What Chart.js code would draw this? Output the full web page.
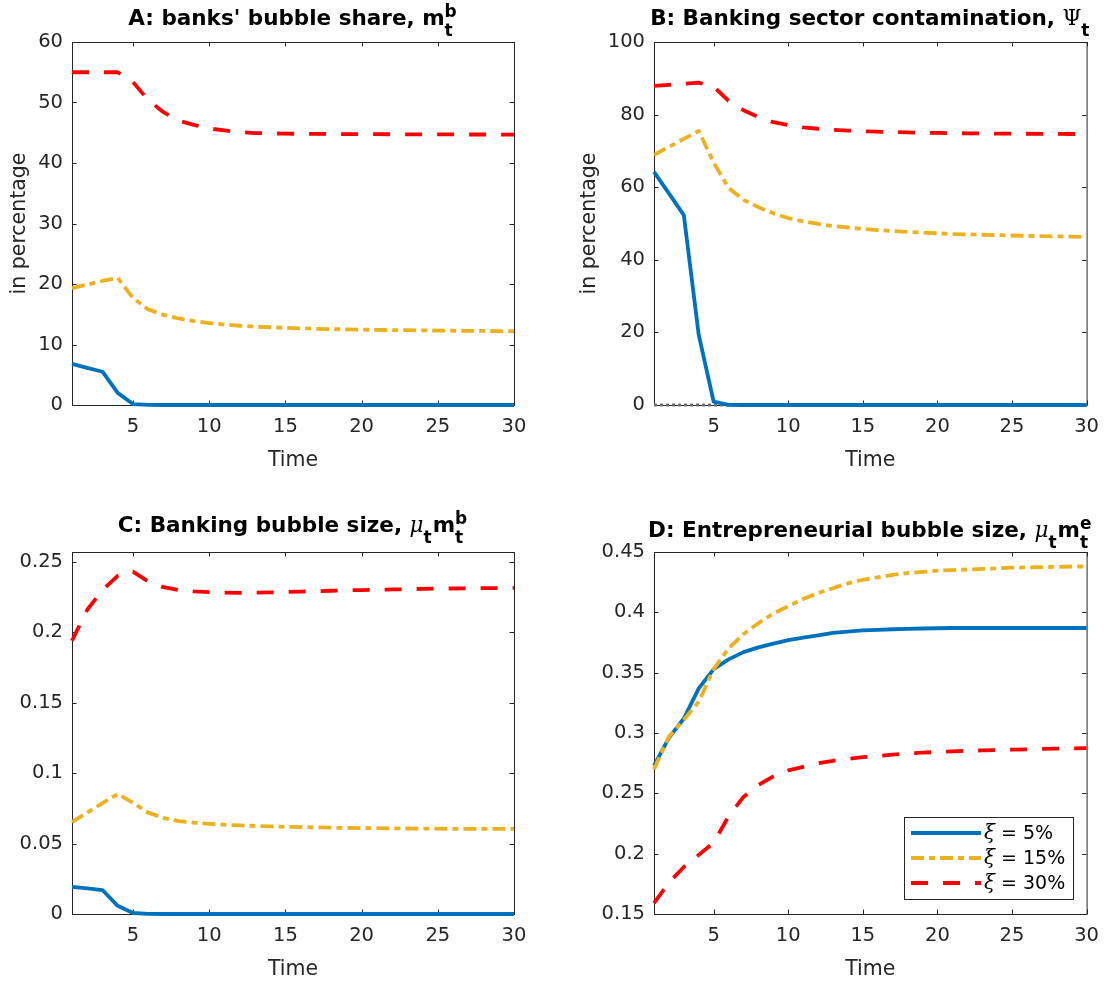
<!DOCTYPE html>
<html>
<head>
<meta charset="utf-8">
<title>Bubble shares and sizes</title>
<script src="https://cdn.jsdelivr.net/npm/chart.js@4.4.1/dist/chart.umd.min.js"></script>
<style>
  body { margin: 0; background: #fff; }
  #fig { position: relative; width: 1109px; height: 983px; }
  #fig canvas { position: absolute; }
</style>
</head>
<body>
<div id="fig">
  <canvas id="A" width="554" height="491" style="left:0;top:0"></canvas>
  <canvas id="B" width="555" height="491" style="left:554px;top:0"></canvas>
  <canvas id="C" width="554" height="492" style="left:0;top:491px"></canvas>
  <canvas id="D" width="555" height="492" style="left:554px;top:491px"></canvas>
</div>
<script>
const periods = [1, 2, 3, 4, 5, 6, 7, 8, 9, 10, 11, 12, 13, 14, 15, 16, 17, 18, 19, 20, 21, 22, 23, 24, 25, 26, 27, 28, 29, 30];
const xTicks = [5, 10, 15, 20, 25, 30];
const seriesLabels = ['ξ = 5%', 'ξ = 15%', 'ξ = 30%'];

// A: banks' bubble share (percent)
const shareTicks = [0, 10, 20, 30, 40, 50, 60];
const shareLow = [6.8, 6.15, 5.5, 2.0, 0.15, 0.02, 0, 0, 0, 0, 0, 0, 0, 0, 0, 0, 0, 0, 0, 0, 0, 0, 0, 0, 0, 0, 0, 0, 0, 0];
const shareMid = [19.3, 19.9, 20.5, 21.0, 17.7, 15.8, 14.9, 14.3, 13.85, 13.55, 13.3, 13.1, 12.95, 12.85, 12.75, 12.68, 12.6, 12.55, 12.5, 12.45, 12.42, 12.39, 12.36, 12.33, 12.3, 12.28, 12.26, 12.24, 12.22, 12.2];
const shareHigh = [55, 55, 55, 55, 53.4, 50.4, 48.4, 47.0, 46.3, 45.7, 45.4, 45.1, 44.95, 44.9, 44.85, 44.83, 44.81, 44.8, 44.78, 44.77, 44.76, 44.75, 44.74, 44.73, 44.72, 44.72, 44.71, 44.71, 44.7, 44.7];

// B: banking sector contamination (percent)
const contamTicks = [0, 20, 40, 60, 80, 100];
const contamLow = [64.2, 58.3, 52.3, 19.3, 0.9, 0.05, 0, 0, 0, 0, 0, 0, 0, 0, 0, 0, 0, 0, 0, 0, 0, 0, 0, 0, 0, 0, 0, 0, 0, 0];
const contamMid = [68.9, 71.1, 73.3, 75.5, 66.8, 59.8, 56.5, 54.5, 52.8, 51.5, 50.6, 49.9, 49.3, 48.9, 48.5, 48.2, 47.9, 47.7, 47.5, 47.3, 47.1, 47.0, 46.9, 46.8, 46.7, 46.6, 46.5, 46.45, 46.4, 46.3];
const contamHigh = [87.9, 88.2, 88.5, 88.8, 87.7, 83.8, 81.2, 79.3, 77.9, 77.1, 76.5, 76.1, 75.8, 75.6, 75.4, 75.3, 75.2, 75.1, 75.0, 74.95, 74.9, 74.85, 74.8, 74.78, 74.75, 74.72, 74.7, 74.68, 74.66, 74.65];
const contamZero = [0, 0, 0, 0, 0, 0, 0, 0, 0, 0, 0, 0, 0, 0, 0, 0, 0, 0, 0, 0, 0, 0, 0, 0, 0, 0, 0, 0, 0, 0];

// C: banking bubble size
const bankTicks = [0, 0.05, 0.1, 0.15, 0.2, 0.25];
const bankLow = [0.0192, 0.0182, 0.017, 0.0058, 0.0007, 0.0001, 0, 0, 0, 0, 0, 0, 0, 0, 0, 0, 0, 0, 0, 0, 0, 0, 0, 0, 0, 0, 0, 0, 0, 0];
const bankMid = [0.0653, 0.072, 0.0787, 0.0852, 0.079, 0.072, 0.0682, 0.066, 0.0648, 0.064, 0.0634, 0.0629, 0.0625, 0.0622, 0.0619, 0.0617, 0.0615, 0.0613, 0.0611, 0.061, 0.0609, 0.0608, 0.0607, 0.0606, 0.0606, 0.0605, 0.0605, 0.0604, 0.0604, 0.0604];
const bankHigh = [0.194, 0.216, 0.23, 0.24, 0.243, 0.236, 0.232, 0.23, 0.229, 0.2285, 0.2282, 0.228, 0.2281, 0.2283, 0.2286, 0.2289, 0.2292, 0.2295, 0.2298, 0.23, 0.2302, 0.2304, 0.2306, 0.2308, 0.231, 0.2311, 0.2312, 0.2313, 0.2314, 0.2315];

// D: entrepreneurial bubble size
const entTicks = [0.15, 0.2, 0.25, 0.3, 0.35, 0.4, 0.45];
const entLow = [0.273, 0.296, 0.312, 0.337, 0.353, 0.361, 0.367, 0.371, 0.374, 0.377, 0.379, 0.381, 0.383, 0.384, 0.385, 0.3855, 0.386, 0.3863, 0.3866, 0.3868, 0.387, 0.387, 0.387, 0.387, 0.387, 0.387, 0.387, 0.387, 0.387, 0.387];
const entMid = [0.27, 0.297, 0.311, 0.326, 0.353, 0.37, 0.382, 0.391, 0.399, 0.405, 0.411, 0.416, 0.42, 0.424, 0.427, 0.429, 0.431, 0.4325, 0.4335, 0.4345, 0.435, 0.4355, 0.436, 0.4365, 0.437, 0.4372, 0.4375, 0.4377, 0.438, 0.438];
const entHigh = [0.159, 0.176, 0.189, 0.199, 0.209, 0.231, 0.247, 0.257, 0.264, 0.269, 0.272, 0.275, 0.277, 0.2785, 0.28, 0.281, 0.282, 0.283, 0.2837, 0.2843, 0.2848, 0.2852, 0.2856, 0.2859, 0.2862, 0.2865, 0.2868, 0.287, 0.2872, 0.2874];

const AX = '#262626';
const SANS = '"DejaVu Sans", sans-serif';
const SERIF = '"DejaVu Serif", serif';
const tickFont = { family: 'DejaVu Sans', size: 19.5 };
const labelFont = { family: 'DejaVu Sans', size: 20.5 };
const TICK = 4.5;

Chart.defaults.font.family = 'DejaVu Sans';

const titles = {
  A: [{ text: "A: banks' bubble share, m" }, { sub: 't', sup: 'b' }],
  B: [{ text: 'B: Banking sector contamination, ' }, { text: 'Ψ', greek: true }, { sub: 't' }],
  C: [{ text: 'C: Banking bubble size, ' }, { text: 'μ', greek: true, italic: true }, { sub: 't' }, { text: 'm' }, { sub: 't', sup: 'b' }],
  D: [{ text: 'D: Entrepreneurial bubble size, ' }, { text: 'μ', greek: true, italic: true }, { sub: 't' }, { text: 'm' }, { sub: 't', sup: 'e' }],
};

function partFont(p) {
  if (p.greek) return (p.italic ? 'italic ' : '') + '21.5px ' + SERIF;
  return 'bold 21.5px ' + SANS;
}
const scriptFont = 'bold 17px ' + SANS;

function drawTitle(ctx, parts, cx, baseline) {
  const sized = parts.map(p => {
    if (p.text !== undefined) {
      ctx.font = partFont(p);
      return { p, w: ctx.measureText(p.text).width };
    }
    ctx.font = scriptFont;
    const ws = ctx.measureText(p.sub || '').width;
    const wp = ctx.measureText(p.sup || '').width;
    return { p, w: Math.max(ws, wp) + 1 };
  });
  const total = sized.reduce((s, q) => s + q.w, 0);
  let x = cx - total / 2;
  ctx.save();
  ctx.fillStyle = '#000';
  ctx.textAlign = 'left';
  ctx.textBaseline = 'alphabetic';
  sized.forEach(({ p, w }) => {
    if (p.text !== undefined) {
      ctx.font = partFont(p);
      ctx.fillText(p.text, x, baseline);
    } else {
      ctx.font = scriptFont;
      if (p.sub) ctx.fillText(p.sub, x, baseline + 11);
      if (p.sup) ctx.fillText(p.sup, x, baseline - 8.5);
    }
    x += w;
  });
  ctx.restore();
}

// legend entry: italic serif xi, then the rest in sans
function legendText(ctx, label, x, y, measureOnly) {
  const head = label.charAt(0), rest = label.slice(1);
  ctx.font = 'italic 20px ' + SERIF;
  const w1 = ctx.measureText(head).width;
  ctx.font = '19px ' + SANS;
  const w2 = ctx.measureText(rest).width;
  if (!measureOnly) {
    ctx.fillStyle = '#000';
    ctx.textBaseline = 'middle';
    ctx.textAlign = 'left';
    ctx.font = 'italic 20px ' + SERIF;
    ctx.fillText(head, x, y + 1);
    ctx.font = '19px ' + SANS;
    ctx.fillText(rest, x + w1, y + 1);
  }
  return w1 + w2;
}

function drawLegend(chart) {
  const { ctx, chartArea: a } = chart;
  const items = chart.data.datasets.filter(d => d.label);
  const rowH = 25, sample = 70, padL = 7, gapT = 3, padR = 8;
  ctx.save();
  const textW = Math.max(...items.map(d => legendText(ctx, d.label, 0, 0, true)));
  const w = padL + sample + gapT + textW + padR;
  const h = items.length * rowH + 7;
  const x0 = Math.round(a.right - 13 - w), y0 = Math.round(a.bottom - 15 - h);
  ctx.fillStyle = '#fff';
  ctx.fillRect(x0, y0, w, h);
  ctx.strokeStyle = AX;
  ctx.lineWidth = 1;
  ctx.strokeRect(x0 + 0.5, y0 + 0.5, Math.round(w), h);
  items.forEach((d, i) => {
    const cy = y0 + 16 + i * rowH;
    ctx.beginPath();
    ctx.setLineDash(d.borderDash || []);
    ctx.strokeStyle = d.borderColor;
    ctx.lineWidth = d.borderWidth;
    ctx.lineCap = 'butt';
    ctx.moveTo(x0 + padL, cy);
    ctx.lineTo(x0 + padL + sample, cy);
    ctx.stroke();
    ctx.setLineDash([]);
    legendText(ctx, d.label, x0 + padL + sample + gapT, cy, false);
  });
  ctx.restore();
}

// MATLAB-style box with inward ticks on all four sides, plus the title
const frame = {
  id: 'frame',
  beforeDatasetsDraw(chart) {
    const { ctx, chartArea: a, scales: { x, y } } = chart;
    ctx.save();
    ctx.strokeStyle = AX;
    ctx.lineWidth = 1;
    ctx.strokeRect(a.left + 0.5, a.top + 0.5, a.right - a.left, a.bottom - a.top);
    ctx.beginPath();
    x.ticks.forEach(t => {
      const px = Math.round(x.getPixelForValue(t.value)) + 0.5;
      ctx.moveTo(px, a.bottom); ctx.lineTo(px, a.bottom - TICK);
      ctx.moveTo(px, a.top); ctx.lineTo(px, a.top + TICK);
    });
    y.ticks.forEach(t => {
      const py = Math.round(y.getPixelForValue(t.value)) + 0.5;
      ctx.moveTo(a.left, py); ctx.lineTo(a.left + TICK, py);
      ctx.moveTo(a.right, py); ctx.lineTo(a.right - TICK, py);
    });
    ctx.stroke();
    ctx.restore();
  },
  afterDraw(chart, args, opts) {
    const a = chart.chartArea;
    drawTitle(chart.ctx, titles[opts.panel], (a.left + a.right) / 2, a.top - opts.titleGap);
    if (opts.legend) drawLegend(chart);
  }
};

const lineStyle = { borderWidth: 3.8, pointRadius: 0, tension: 0, clip: 6, borderCapStyle: 'butt', borderJoinStyle: 'round', fill: false };

function seriesSet(low, mid, high) {
  return [
    Object.assign({ label: seriesLabels[0], data: low, borderColor: '#0072BD', borderDash: [], order: 3 }, lineStyle),
    Object.assign({ label: seriesLabels[1], data: mid, borderColor: '#EDB120', borderDash: [13, 5, 6, 5], order: 2 }, lineStyle),
    Object.assign({ label: seriesLabels[2], data: high, borderColor: '#FF0000', borderDash: [17, 15], order: 1 }, lineStyle),
  ];
}

function panel(id, cfg) {
  const canvas = document.getElementById(id);
  const W = canvas.width, H = canvas.height;
  const a = cfg.area;
  const half = labelFont.size * 1.2 / 2;
  return new Chart(canvas, {
    type: 'line',
    data: { labels: periods, datasets: cfg.datasets },
    options: {
      responsive: false,
      animation: false,
      devicePixelRatio: 1,
      layout: { padding: { left: 0, top: a.top, right: W - a.right, bottom: 0 } },
      plugins: {
        legend: { display: false },
        tooltip: { enabled: false },
        frame: { panel: id, titleGap: cfg.titleGap, legend: !!cfg.legend }
      },
      scales: {
        x: {
          type: 'linear', min: 1, max: 30,
          grid: { display: false, drawTicks: false },
          border: { display: false },
          ticks: { font: tickFont, color: AX, padding: 10, maxRotation: 0, autoSkip: false, callback: v => String(v) },
          afterBuildTicks: s => { s.ticks = xTicks.map(v => ({ value: v })); },
          afterFit: s => { s.height = H - a.bottom; },
          title: { display: true, text: 'Time', font: labelFont, color: AX, padding: { top: 0, bottom: H - a.bottom - 56 - half } }
        },
        y: {
          type: 'linear', min: cfg.yMin, max: cfg.yMax,
          grid: { display: false, drawTicks: false },
          border: { display: false },
          ticks: { font: tickFont, color: AX, padding: 9, autoSkip: false, callback: v => String(v) },
          afterBuildTicks: s => { s.ticks = cfg.yTicks.map(v => ({ value: v })); },
          afterFit: s => { s.width = a.left; },
          title: { display: !!cfg.yTitle, text: cfg.yTitle || '', font: labelFont, color: AX, padding: { top: (cfg.yTitleX || 20) - half, bottom: 0 } }
        }
      }
    },
    plugins: [frame]
  });
}

panel('A', {
  area: { left: 72, top: 42, right: 514, bottom: 405 },
  titleGap: 17,
  yMin: 0, yMax: 60, yTicks: shareTicks,
  yTitle: 'in percentage', yTitleX: 20,
  datasets: seriesSet(shareLow, shareMid, shareHigh)
});

const contamSets = seriesSet(contamLow, contamMid, contamHigh);
contamSets.push(Object.assign({}, lineStyle, { label: '', data: contamZero, borderColor: '#6E6E6E', borderWidth: 3, borderDash: [3, 3], order: 4 }));
panel('B', {
  area: { left: 100, top: 42, right: 543, bottom: 405 },
  titleGap: 17,
  yMin: 0, yMax: 100, yTicks: contamTicks,
  yTitle: 'in percentage', yTitleX: 36,
  datasets: contamSets
});

panel('C', {
  area: { left: 72, top: 61, right: 514, bottom: 423 },
  titleGap: 20,
  yMin: 0, yMax: 0.257, yTicks: bankTicks,
  datasets: seriesSet(bankLow, bankMid, bankHigh)
});

panel('D', {
  area: { left: 100, top: 61, right: 543, bottom: 423 },
  titleGap: 15,
  yMin: 0.15, yMax: 0.45, yTicks: entTicks,
  legend: true,
  datasets: seriesSet(entLow, entMid, entHigh)
});
</script>
</body>
</html>
